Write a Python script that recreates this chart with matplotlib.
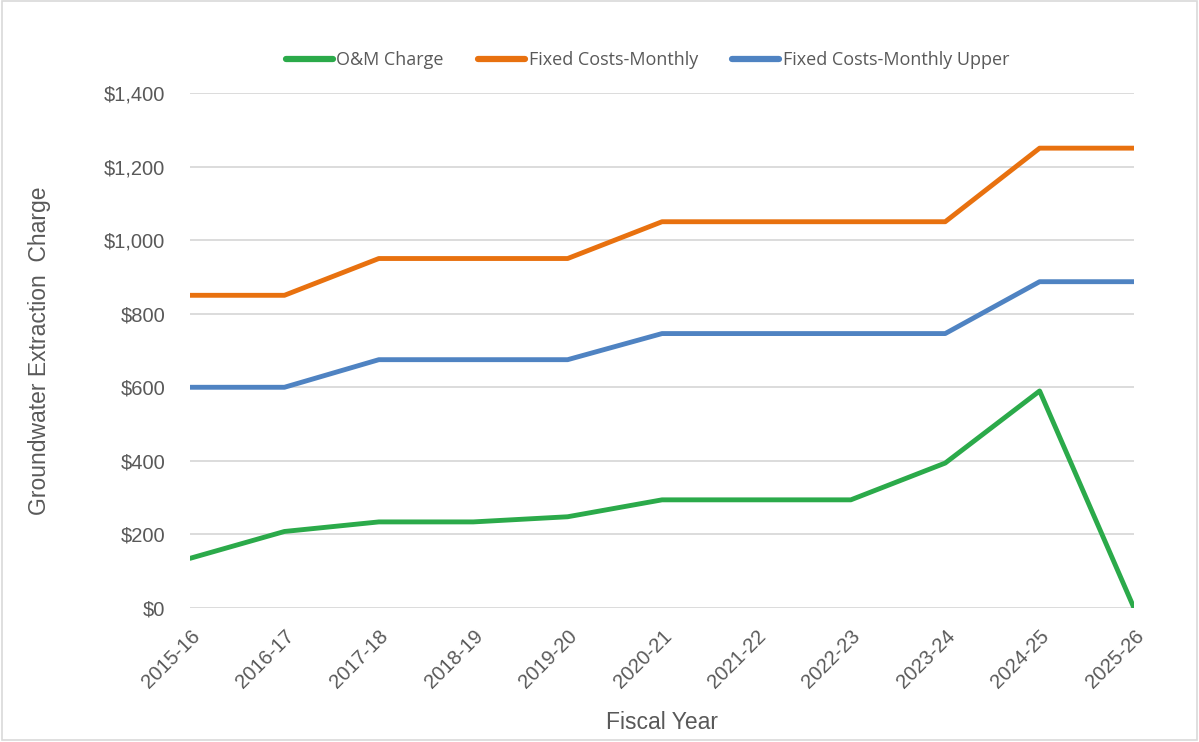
import matplotlib
matplotlib.use("Agg")
import matplotlib.pyplot as plt
from matplotlib.patches import Rectangle
from matplotlib.ticker import FuncFormatter

years = ["2015-16", "2016-17", "2017-18", "2018-19", "2019-20", "2020-21",
         "2021-22", "2022-23", "2023-24", "2024-25", "2025-26"]
om_charge = [135, 208, 234, 234, 248, 294, 294, 294, 394, 590, 0]
fixed_monthly = [850, 850, 950, 950, 950, 1050, 1050, 1050, 1050, 1250, 1250]
fixed_upper = [600, 600, 675, 675, 675, 746, 746, 746, 746, 887, 887]

plt.rcParams['font.family'] = ['Liberation Sans', 'DejaVu Sans']
txt = '#595959'

fig = plt.figure(figsize=(11.99, 7.42), dpi=100)
ax = fig.add_axes([0.1585, 0.1806, 0.7873, 0.6941])

x = range(len(years))
ax.plot(x, om_charge, color='#2BAA4A', lw=3.5, label='O&M Charge', solid_capstyle='round')
ax.plot(x, fixed_monthly, color='#E8710F', lw=3.5, label='Fixed Costs-Monthly', solid_capstyle='round')
ax.plot(x, fixed_upper, color='#4F83C2', lw=3.5, label='Fixed Costs-Monthly Upper', solid_capstyle='round')

ax.set_xlim(0, len(years) - 1)
ax.set_ylim(0, 1400)
ax.set_yticks(range(0, 1401, 200))
ax.yaxis.set_major_formatter(FuncFormatter(lambda v, p: f"${v:,.0f}"))
ax.set_xticks(list(x))
ax.set_xticklabels(years, rotation=45, ha='right', rotation_mode='anchor')
ax.grid(axis='y', color='#D9D9D9', lw=1.3)
ax.set_axisbelow(True)
for s in ax.spines.values():
    s.set_visible(False)
ax.tick_params(axis='both', length=0, labelsize=14.5, labelcolor=txt)
ax.tick_params(axis='y', pad=18)
ax.tick_params(axis='x', pad=13)
ax.set_ylabel("Groundwater Extraction  Charge", fontsize=16.5, color=txt, labelpad=38)
ax.set_xlabel("Fiscal Year", fontsize=16.5, color=txt, labelpad=14)

leg = fig.legend(loc='center', bbox_to_anchor=(0.54, 0.919), ncol=3, frameon=False,
                 prop={'family': 'Open Sans', 'size': 13}, handlelength=2.6,
                 columnspacing=1.9, handletextpad=0.2)
for t in leg.get_texts():
    t.set_color(txt)
for h in leg.legend_handles:
    h.set_linewidth(4.5)

fig.patches.append(Rectangle((0.002, 0.003), 0.996, 0.995, transform=fig.transFigure,
                             fill=False, edgecolor='#D9D9D9', lw=1.2))

fig.savefig("out.png", dpi=100)
